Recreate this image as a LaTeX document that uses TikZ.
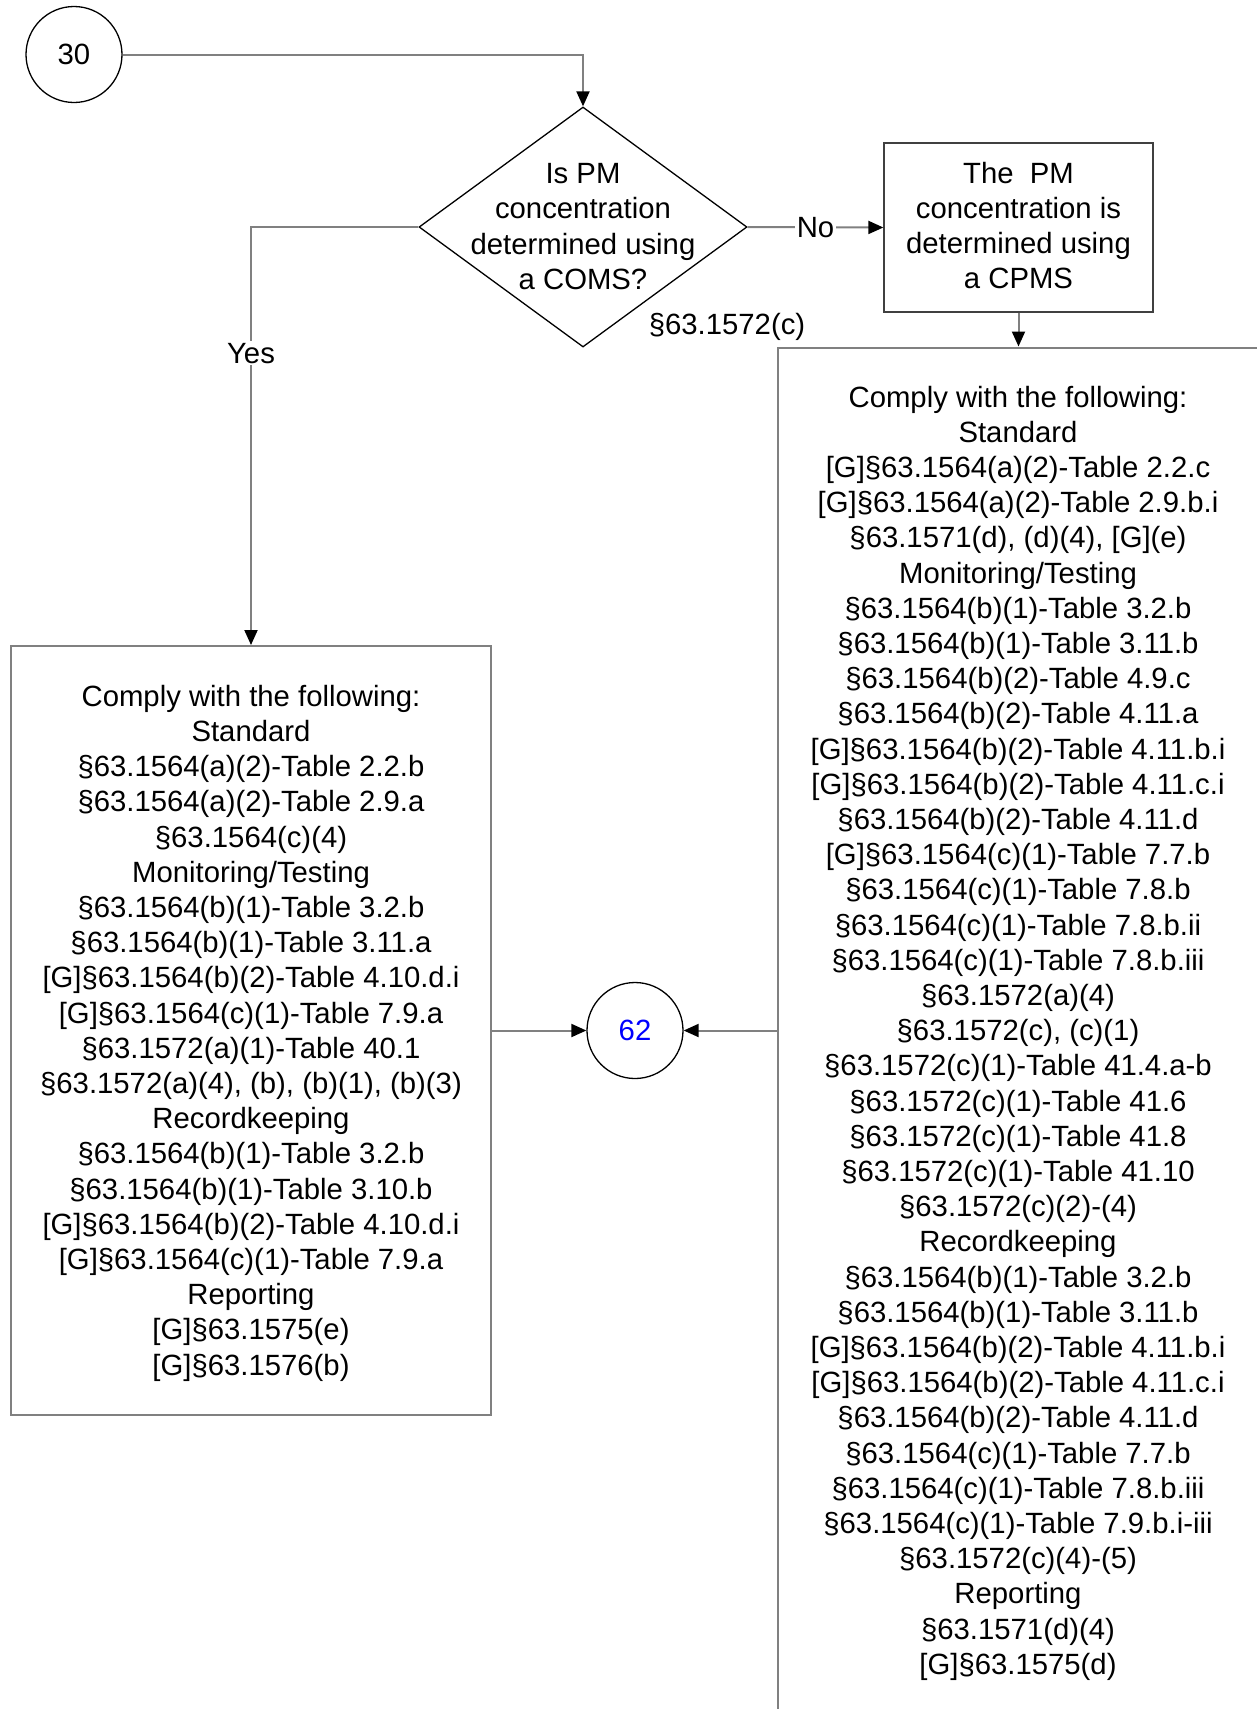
\documentclass[tikz,border=0pt]{standalone}
\usepackage{fontspec}
\setmainfont{Liberation Sans}
\usetikzlibrary{shapes.geometric,arrows.meta}
\definecolor{lgray}{HTML}{808080}
\definecolor{dgray}{HTML}{404040}
\tikzset{
  every node/.style={font=\fontsize{29.3}{35.2}\selectfont, align=center, inner sep=0pt},
  conn/.style={draw=lgray, line width=2pt, -{Triangle[length=15pt,width=13pt,color=black]}},
  circ/.style={circle, draw=black, line width=1.3pt, minimum size=96pt},
  dia/.style={diamond, draw=black, line width=1.3pt, minimum width=328pt, minimum height=240pt},
  gbox/.style={rectangle, draw=lgray, line width=2pt},
  cbox/.style={rectangle, draw=dgray, line width=1.3pt, minimum width=269pt, minimum height=169pt},
  lbl/.style={fill=white, inner sep=2pt}
}
\begin{document}
\begin{tikzpicture}[x=1pt,y=-1pt]
\useasboundingbox (0,0) rectangle (1257,1709);
\clip (0,0) rectangle (1257,1709);
\node[circ] (c30) at (74,54.5) {30};
\node[dia] (d) at (583,227) {};
\node (dt) at (583,226.6) {Is PM\\concentration\\determined using\\a COMS?};
\node[cbox] (cp) at (1018.5,227.5) {};
\node (cpt) at (1018.5,225.5) {The\ \ PM\\concentration is\\determined using\\a CPMS};
\node (ref) at (727,327) {§63.1572(c)};
\node[gbox, minimum width=480pt, minimum height=769pt] (lb) at (251,1030.5) {};
\node (lbt) at (251,1033.2) {Comply with the following:\\Standard\\§63.1564(a)(2)-Table 2.2.b\\§63.1564(a)(2)-Table 2.9.a\\§63.1564(c)(4)\\Monitoring/Testing\\§63.1564(b)(1)-Table 3.2.b\\§63.1564(b)(1)-Table 3.11.a\\{[G]}§63.1564(b)(2)-Table 4.10.d.i\\{[G]}§63.1564(c)(1)-Table 7.9.a\\§63.1572(a)(1)-Table 40.1\\§63.1572(a)(4), (b), (b)(1), (b)(3)\\Recordkeeping\\§63.1564(b)(1)-Table 3.2.b\\§63.1564(b)(1)-Table 3.10.b\\{[G]}§63.1564(b)(2)-Table 4.10.d.i\\{[G]}§63.1564(c)(1)-Table 7.9.a\\Reporting\\{[G]}§63.1575(e)\\{[G]}§63.1576(b)};
\node[gbox, minimum width=480pt, minimum height=1366pt] (rb) at (1018,1030.5) {};
\node (rbt) at (1018,1033.2) {Comply with the following:\\Standard\\{[G]}§63.1564(a)(2)-Table 2.2.c\\{[G]}§63.1564(a)(2)-Table 2.9.b.i\\§63.1571(d), (d)(4), [G](e)\\Monitoring/Testing\\§63.1564(b)(1)-Table 3.2.b\\§63.1564(b)(1)-Table 3.11.b\\§63.1564(b)(2)-Table 4.9.c\\§63.1564(b)(2)-Table 4.11.a\\{[G]}§63.1564(b)(2)-Table 4.11.b.i\\{[G]}§63.1564(b)(2)-Table 4.11.c.i\\§63.1564(b)(2)-Table 4.11.d\\{[G]}§63.1564(c)(1)-Table 7.7.b\\§63.1564(c)(1)-Table 7.8.b\\§63.1564(c)(1)-Table 7.8.b.ii\\§63.1564(c)(1)-Table 7.8.b.iii\\§63.1572(a)(4)\\§63.1572(c), (c)(1)\\§63.1572(c)(1)-Table 41.4.a-b\\§63.1572(c)(1)-Table 41.6\\§63.1572(c)(1)-Table 41.8\\§63.1572(c)(1)-Table 41.10\\§63.1572(c)(2)-(4)\\Recordkeeping\\§63.1564(b)(1)-Table 3.2.b\\§63.1564(b)(1)-Table 3.11.b\\{[G]}§63.1564(b)(2)-Table 4.11.b.i\\{[G]}§63.1564(b)(2)-Table 4.11.c.i\\§63.1564(b)(2)-Table 4.11.d\\§63.1564(c)(1)-Table 7.7.b\\§63.1564(c)(1)-Table 7.8.b.iii\\§63.1564(c)(1)-Table 7.9.b.i-iii\\§63.1572(c)(4)-(5)\\Reporting\\§63.1571(d)(4)\\{[G]}§63.1575(d)};
\node[circ] (c62) at (635,1030.5) {\textcolor{blue}{62}};
\draw[conn] (c30.east) -| (d.north);
\draw[conn] (d.east) -- node[lbl] (no) {No} (cp.west);
\draw[conn] (d.west) -| node[lbl, pos=0.651] (yes) {Yes} (lb.north);
\draw[conn] (cp.south) -- (cp.south |- rb.north);
\draw[conn] (lb.east) -- (c62.west);
\draw[conn] (rb.west) -- (c62.east);
\end{tikzpicture}
\end{document}
